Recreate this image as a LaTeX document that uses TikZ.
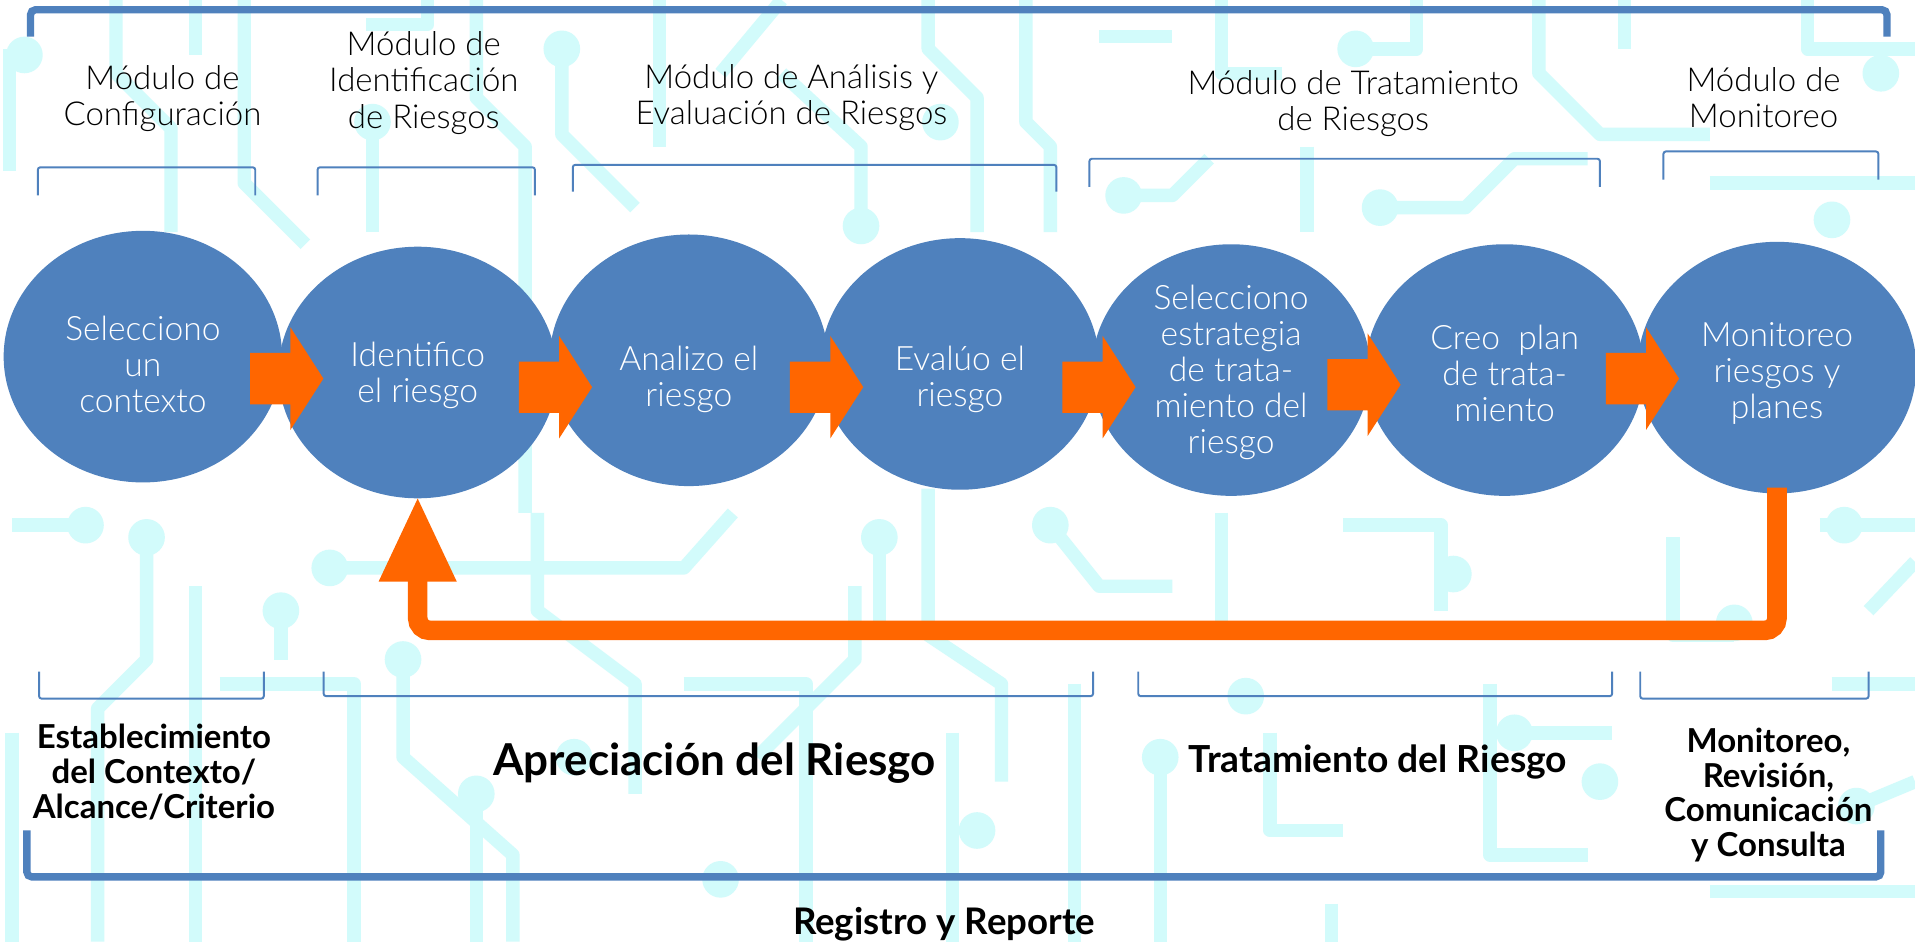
\documentclass[tikz,border=0pt]{standalone}
\usepackage{fontspec}
\setmainfont{Lato}
\newfontfamily\lightfam{Lato Light}
\usetikzlibrary{shapes.geometric,calc}
\definecolor{cbg}{HTML}{D2FBFB}
\definecolor{cblue}{HTML}{4F81BD}
\definecolor{corange}{HTML}{FF6600}
\newcommand{\blockarr}[1]{\fill[corange] ($(#1)+(-60,-21)$) -- ($(#1)+(-27,-21)$) -- ($(#1)+(-27,-42)$) -- (#1) -- ($(#1)+(-27,42)$) -- ($(#1)+(-27,21)$) -- ($(#1)+(-60,21)$) -- cycle;}
\begin{document}
\begin{tikzpicture}[x=1pt,y=-1pt,
  trace/.style={cbg, line width=11pt, line join=round},
  bigbr/.style={cblue, line width=6pt, rounded corners=4pt},
  smallbr/.style={cblue, line width=1.6pt, rounded corners=2pt},
  modlabel/.style={align=center, text=black, font=\lightfam\fontsize{27}{29.5}\selectfont},
  stepnode/.style={ellipse, fill=cblue, minimum width=228pt, minimum height=206pt, inner sep=0pt},
  steptext/.style={align=center, text=white, inner sep=0pt, font=\lightfam\fontsize{27.5}{29.5}\selectfont},
  boldlab/.style={align=center, text=black, font=\bfseries\fontsize{27}{28.5}\selectfont}]
\useasboundingbox (0,0) rectangle (1568,771);
\fill[white] (0,0) rectangle (1568,771);
% ---------- circuit background ----------
\draw[trace] (8,40) -- (8,140);
\draw[trace] (95,0) -- (95,60) -- (140,105) -- (140,190);
\draw[trace] (160,0) -- (160,45);
\draw[trace] (200,0) -- (200,150) -- (250,200);
\draw[trace] (300,20) -- (350,20) -- (350,0);
\draw[trace] (305,100) -- (305,190);
\draw[trace] (390,0) -- (390,80) -- (430,120) -- (430,420);
\draw[trace] (460,40) -- (460,110) -- (520,170);
\draw[trace] (540,0) -- (540,120);
\draw[trace] (590,60) -- (640,0);
\draw[trace] (705,185) -- (705,120) -- (640,60);
\draw[trace] (760,0) -- (760,40) -- (800,80) -- (800,190);
\draw[trace] (840,0) -- (840,100) -- (860,120) -- (860,190);
\draw[trace] (900,30) -- (960,30);
\draw[trace] (920,160) -- (960,160) -- (990,130);
\draw[trace] (1000,0) -- (1000,60) -- (1050,60);
\draw[trace] (1070,120) -- (1070,190);
\draw[trace] (1110,40) -- (1160,40) -- (1160,0);
\draw[trace] (1130,170) -- (1200,170) -- (1240,130) -- (1300,130);
\draw[trace] (1260,0) -- (1260,60) -- (1310,110) -- (1400,110);
\draw[trace] (1330,40) -- (1330,0);
\draw[trace] (1480,0) -- (1480,40) -- (1568,40);
\draw[trace] (1400,150) -- (1568,150);
\draw[trace] (10,430) -- (60,430);
\draw[trace] (120,440) -- (120,540) -- (80,580) -- (80,771);
\draw[trace] (160,480) -- (160,771);
\draw[trace] (180,560) -- (290,560) -- (290,771);
\draw[trace] (270,465) -- (560,465) -- (600,420);
\draw[trace] (230,500) -- (230,540);
\draw[trace] (330,540) -- (330,620) -- (420,700) -- (420,771);
\draw[trace] (390,650) -- (390,771);
\draw[trace] (440,420) -- (440,500) -- (520,560) -- (520,650);
\draw[trace] (560,560) -- (660,560) -- (660,771);
\draw[trace] (620,620) -- (700,540) -- (700,480);
\draw[trace] (720,440) -- (720,520);
\draw[trace] (760,400) -- (760,520) -- (820,560) -- (820,640);
\draw[trace] (780,600) -- (780,771);
\draw[trace] (860,430) -- (900,480) -- (960,480);
\draw[trace] (880,560) -- (880,771);
\draw[trace] (950,620) -- (950,771);
\draw[trace] (1000,420) -- (1000,520);
\draw[trace] (1040,600) -- (1040,680) -- (1100,680);
\draw[trace] (1100,430) -- (1180,430) -- (1180,500);
\draw[trace] (1220,560) -- (1220,700) -- (1300,700);
\draw[trace] (1240,600) -- (1320,600);
\draw[trace] (1370,440) -- (1370,520) -- (1420,520);
\draw[trace] (1490,430) -- (1568,430);
\draw[trace] (1500,560) -- (1568,560);
\draw[trace] (1520,660) -- (1568,640);
\draw[trace] (1400,730) -- (1568,730);
\draw[trace] (1530,500) -- (1568,460);
\draw[trace] (10,600) -- (10,771);
\draw[trace] (1090,740) -- (1090,771);
\foreach \p in {(20,45),(70,430),(120,440),(270,465),(305,100),(460,40),(705,185),(770,100),(920,160),(1110,40),(1130,170),(1540,60),(1500,180),(330,540),(390,650),(470,620),(590,720),(720,440),(860,430),(950,620),(1020,570),(1190,470),(1310,640),(1420,510),(1510,430),(1520,660),(230,500),(800,680),(1240,600)}
  \fill[cbg] \p circle (15);
% ---------- top bracket and module labels ----------
\draw[bigbr] (25,30) -- (25,8) -- (1545,8) -- (1545,30);
\node[modlabel] (m1) at (133,81) {Módulo de\\Configuración};
\node[modlabel] (m2) at (347,68) {Módulo de\\Identificación\\de Riesgos};
\node[modlabel] (m3) at (648,80) {Módulo de Análisis y\\Evaluación de Riesgos};
\node[modlabel] (m4) at (1108,85) {Módulo de Tratamiento\\de Riesgos};
\node[modlabel] (m5) at (1444,80) {Módulo de\\Monitoreo};
\draw[smallbr] (31,160) -- (31,137) -- (209,137) -- (209,160);
\draw[smallbr] (260,160) -- (260,137) -- (438,137) -- (438,160);
\draw[smallbr] (469,157) -- (469,135) -- (865,135) -- (865,157);
\draw[smallbr] (892,153) -- (892,130) -- (1310,130) -- (1310,153);
\draw[smallbr] (1362,147) -- (1362,124) -- (1538,124) -- (1538,147);
% ---------- steps ----------
\node[stepnode] (c1) at (117,292) {};
\node[stepnode] (c2) at (342,305) {};
\node[stepnode] (c3) at (564,295) {};
\node[stepnode] (c4) at (786,298) {};
\node[stepnode] (c5) at (1008,303) {};
\node[stepnode] (c6) at (1232,303) {};
\node[stepnode] (c7) at (1455,301) {};
\node[steptext] (s1) at ($(c1)+(0,6)$) {Selecciono\\un\\contexto};
\node[steptext] (s2) at ($(c2)+(0,2)$) {Identifico\\el riesgo};
\node[steptext] (s3) at ($(c3)+(0,16)$) {Analizo el\\riesgo};
\node[steptext] (s4) at ($(c4)+(0,13)$) {Evalúo el\\riesgo};
\node[steptext] (s5) at ($(c5)+(0,2)$) {Selecciono\\estrategia\\de trata-\\miento del\\riesgo};
\node[steptext] (s6) at ($(c6)+(0,3)$) {Creo\ \ plan\\de trata-\\miento};
\node[steptext] (s7) at ($(c7)+(0,5)$) {Monitoreo\\riesgos y\\planes};
\coordinate (t1) at ($(c2.west)+(37,5)$);
\coordinate (t2) at ($(c3.west)+(35,22)$);
\coordinate (t3) at ($(c4.west)+(35,19)$);
\coordinate (t4) at ($(c5.west)+(36,14)$);
\coordinate (t5) at ($(c6.west)+(29,12)$);
\coordinate (t6) at ($(c7.west)+(34,9)$);
\blockarr{t1}\blockarr{t2}\blockarr{t3}\blockarr{t4}\blockarr{t5}\blockarr{t6}
% feedback loop
\draw[corange, line width=16pt, rounded corners=10pt] ($(c7.south)+(0,-5)$) |- ($(c2.south)+(0,108)$) -- ($(c2.south)+(0,62)$);
\fill[corange] ($(c2.south)+(-32,68)$) -- (c2.south) -- ($(c2.south)+(32,68)$) -- cycle;
% ---------- bottom brackets and labels ----------
\draw[smallbr] (32,550) -- (32,572) -- (216,572) -- (216,550);
\draw[smallbr] (265,550) -- (265,570) -- (895,570) -- (895,550);
\draw[smallbr] (932,550) -- (932,570) -- (1320,570) -- (1320,550);
\draw[smallbr] (1343,550) -- (1343,572) -- (1530,572) -- (1530,550);
\node[boldlab] (b1) at (126,632) {Establecimiento\\del Contexto/\\Alcance/Criterio};
\node[boldlab, font=\bfseries\fontsize{36}{38}\selectfont] (b2) at (585,625) {Apreciación del Riesgo};
\node[boldlab, font=\bfseries\fontsize{30.5}{32}\selectfont] (b3) at (1128,624) {Tratamiento del Riesgo};
\node[boldlab] (b4) at (1448,651) {Monitoreo,\\Revisión,\\Comunicación\\y Consulta};
\draw[bigbr] (22,680) -- (22,718) -- (1540,718) -- (1540,680);
\node[boldlab, font=\bfseries\fontsize{30}{32}\selectfont] (b5) at (773,757) {Registro y Reporte};
\end{tikzpicture}
\end{document}
